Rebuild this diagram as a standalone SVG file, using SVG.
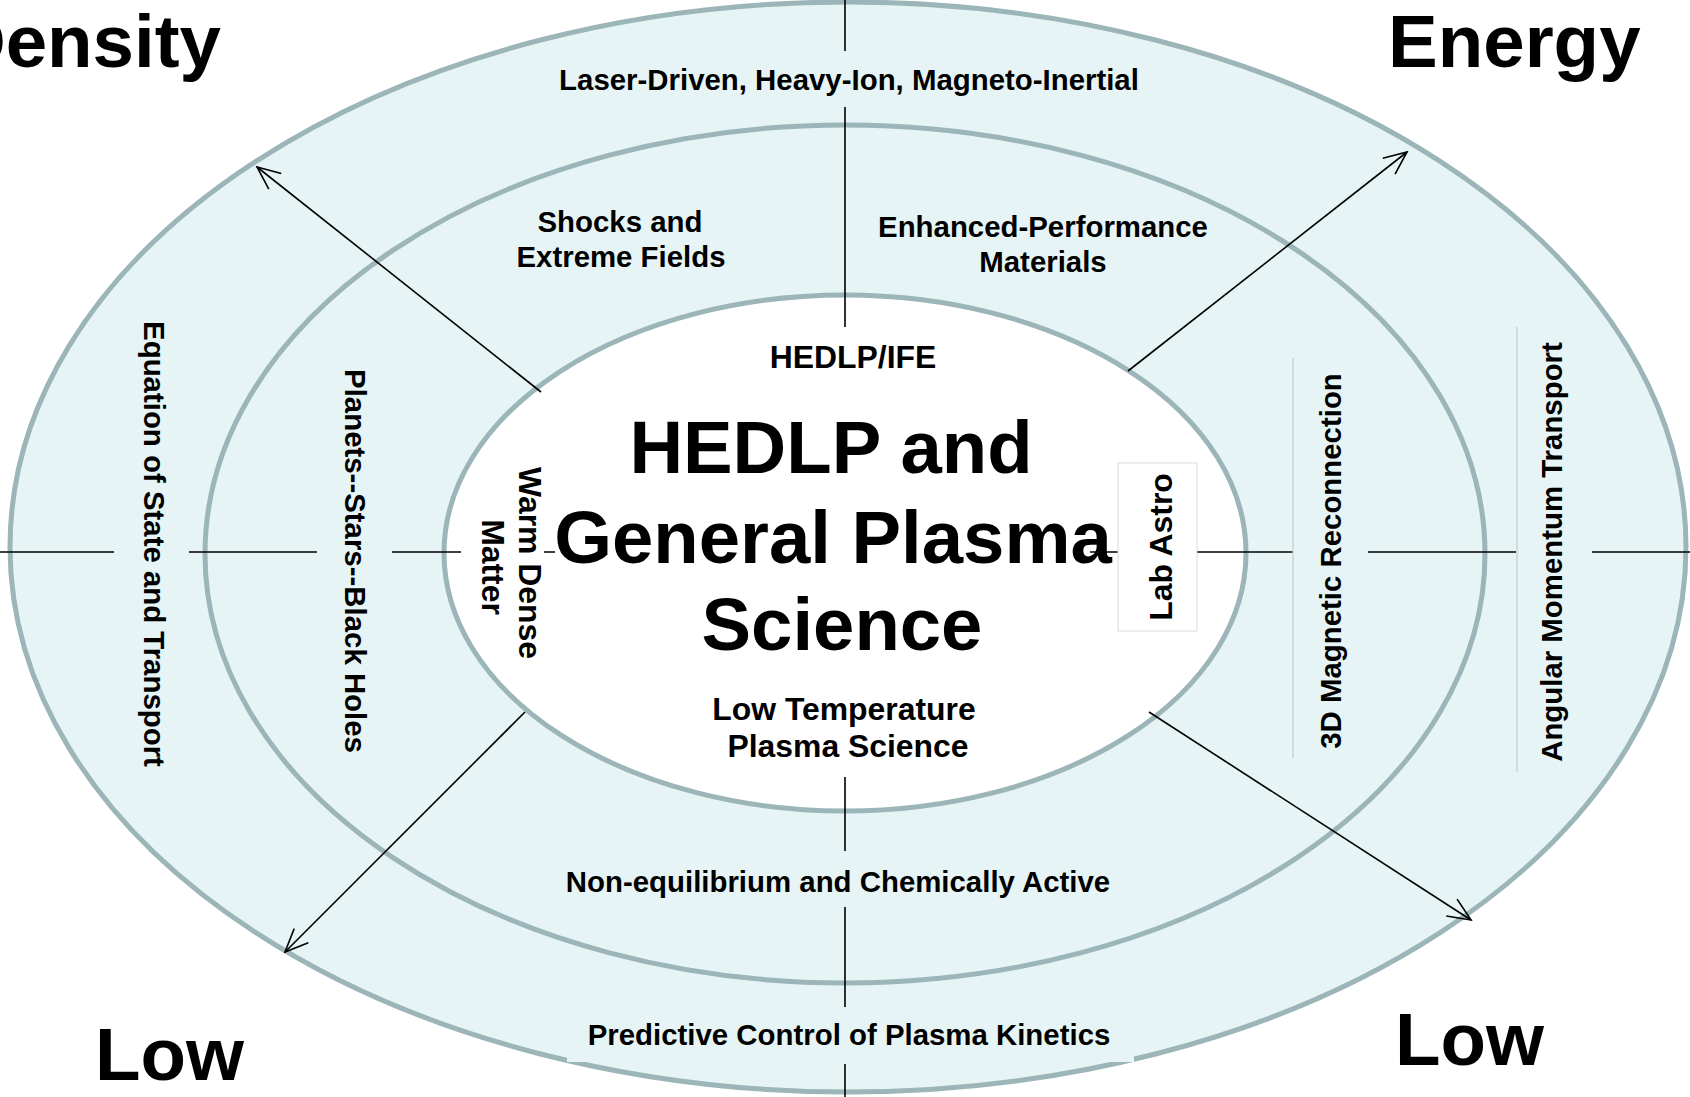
<svg xmlns="http://www.w3.org/2000/svg" width="1690" height="1097" viewBox="0 0 1690 1097">
<style>
.ring{fill:#E6F4F5;stroke:#9BB5B8;stroke-width:5}
.core{fill:#FFFFFF;stroke:#9BB5B8;stroke-width:5}
.t{font-family:"Liberation Sans",Arial,sans-serif;font-weight:bold;fill:#000}
.m{font-size:29.4px}
.l{font-size:31.9px}
.big{font-size:74.3px}
.corner{font-size:74.5px}
.ln{stroke:#000;stroke-width:1.6;fill:none}
.arr{stroke:#000;stroke-width:1.6;fill:none;marker-end:url(#open)}
.edge{stroke:#C3CBCB;stroke-width:1.2}
</style>
<defs>
<marker id="open" viewBox="-25 -12 27 24" refX="0" refY="0" markerWidth="27" markerHeight="24" markerUnits="userSpaceOnUse" orient="auto">
<path d="M-23,-10 L0,0 L-23,10" fill="none" stroke="#000" stroke-width="1.6"/>
</marker>
</defs>
<rect x="0" y="0" width="1690" height="1097" fill="#FFFFFF"/>
<g id="ring-outer"><ellipse class="ring" cx="848" cy="547" rx="838" ry="545"/></g>
<rect x="567" y="1022" width="567" height="40" fill="#E6F4F5"/>
<g id="ring-middle"><ellipse class="ring" cx="845" cy="554" rx="640" ry="429"/></g>
<g id="ring-inner"><ellipse class="core" cx="845" cy="553" rx="401" ry="258"/></g>
<g id="connectors">
<path class="ln" d="M845,0 V51 M845,107 V327 M845,777 V851 M845,907 V1007 M845,1064 V1097"/>
<path class="ln" d="M0,552 H114 M189,552 H317 M392,552 H461 M544,552 H555 M1090,552 H1118 M1197,552 H1293 M1368,552 H1516 M1592,552 H1690"/>
<line class="arr" x1="541" y1="392" x2="257" y2="167"/>
<line class="arr" x1="1128" y1="371" x2="1407" y2="152"/>
<line class="arr" x1="525" y1="712" x2="285" y2="952"/>
<line class="arr" x1="1149" y1="712" x2="1471" y2="920"/>
</g>
<g id="axis-density"><text class="t corner" x="221" y="67" text-anchor="end">Density</text></g>
<g id="axis-energy"><text class="t corner" x="1388" y="67">Energy</text></g>
<g id="axis-low-left"><text class="t corner" x="95" y="1080">Low</text></g>
<g id="axis-low-right"><text class="t corner" x="1395" y="1065">Low</text></g>
<g id="n-laser"><text class="t m" x="849" y="90" text-anchor="middle">Laser-Driven, Heavy-Ion, Magneto-Inertial</text></g>
<g id="n-shocks"><text class="t m" x="620" y="232" text-anchor="middle">Shocks and</text><text class="t m" x="621" y="267" text-anchor="middle">Extreme Fields</text></g>
<g id="n-materials"><text class="t m" x="1043" y="237" text-anchor="middle">Enhanced-Performance</text><text class="t m" x="1043" y="272" text-anchor="middle">Materials</text></g>
<g id="n-hedlp-ife"><text class="t l" x="853" y="368" text-anchor="middle">HEDLP/IFE</text></g>
<g id="n-title"><text class="t big" x="831" y="473" text-anchor="middle">HEDLP and</text><text class="t big" x="833" y="563" text-anchor="middle">General Plasma</text><text class="t big" x="842" y="650" text-anchor="middle">Science</text></g>
<g id="n-ltp"><text class="t l" x="844" y="720" text-anchor="middle">Low Temperature</text><text class="t l" x="848" y="757" text-anchor="middle">Plasma Science</text></g>
<g id="n-noneq"><text class="t m" x="838" y="892" text-anchor="middle">Non-equilibrium and Chemically Active</text></g>
<g id="n-predictive"><text class="t m" x="849" y="1045" text-anchor="middle">Predictive Control of Plasma Kinetics</text></g>
<g id="n-eos"><text class="t m" transform="translate(144,544) rotate(90)" text-anchor="middle">Equation of State and Transport</text></g>
<g id="n-planets"><text class="t m" transform="translate(345,561) rotate(90)" text-anchor="middle">Planets--Stars--Black Holes</text></g>
<g id="n-wdm"><text class="t l" transform="translate(519,563) rotate(90)" text-anchor="middle">Warm Dense</text><text class="t l" transform="translate(482,567) rotate(90)" text-anchor="middle">Matter</text></g>
<g id="n-labastro"><rect x="1118" y="463" width="79" height="168" fill="#FFFFFF" stroke="#DADADA" stroke-width="1"/><text class="t l" transform="translate(1172,547) rotate(-90)" text-anchor="middle">Lab Astro</text></g>
<g id="n-reconnection"><line class="edge" x1="1293" y1="358" x2="1293" y2="758"/><text class="t m" transform="translate(1341,561) rotate(-90)" text-anchor="middle">3D Magnetic Reconnection</text></g>
<g id="n-angular"><line class="edge" x1="1517" y1="327" x2="1517" y2="772"/><text class="t m" transform="translate(1562,552) rotate(-90)" text-anchor="middle">Angular Momentum Transport</text></g>
</svg>
